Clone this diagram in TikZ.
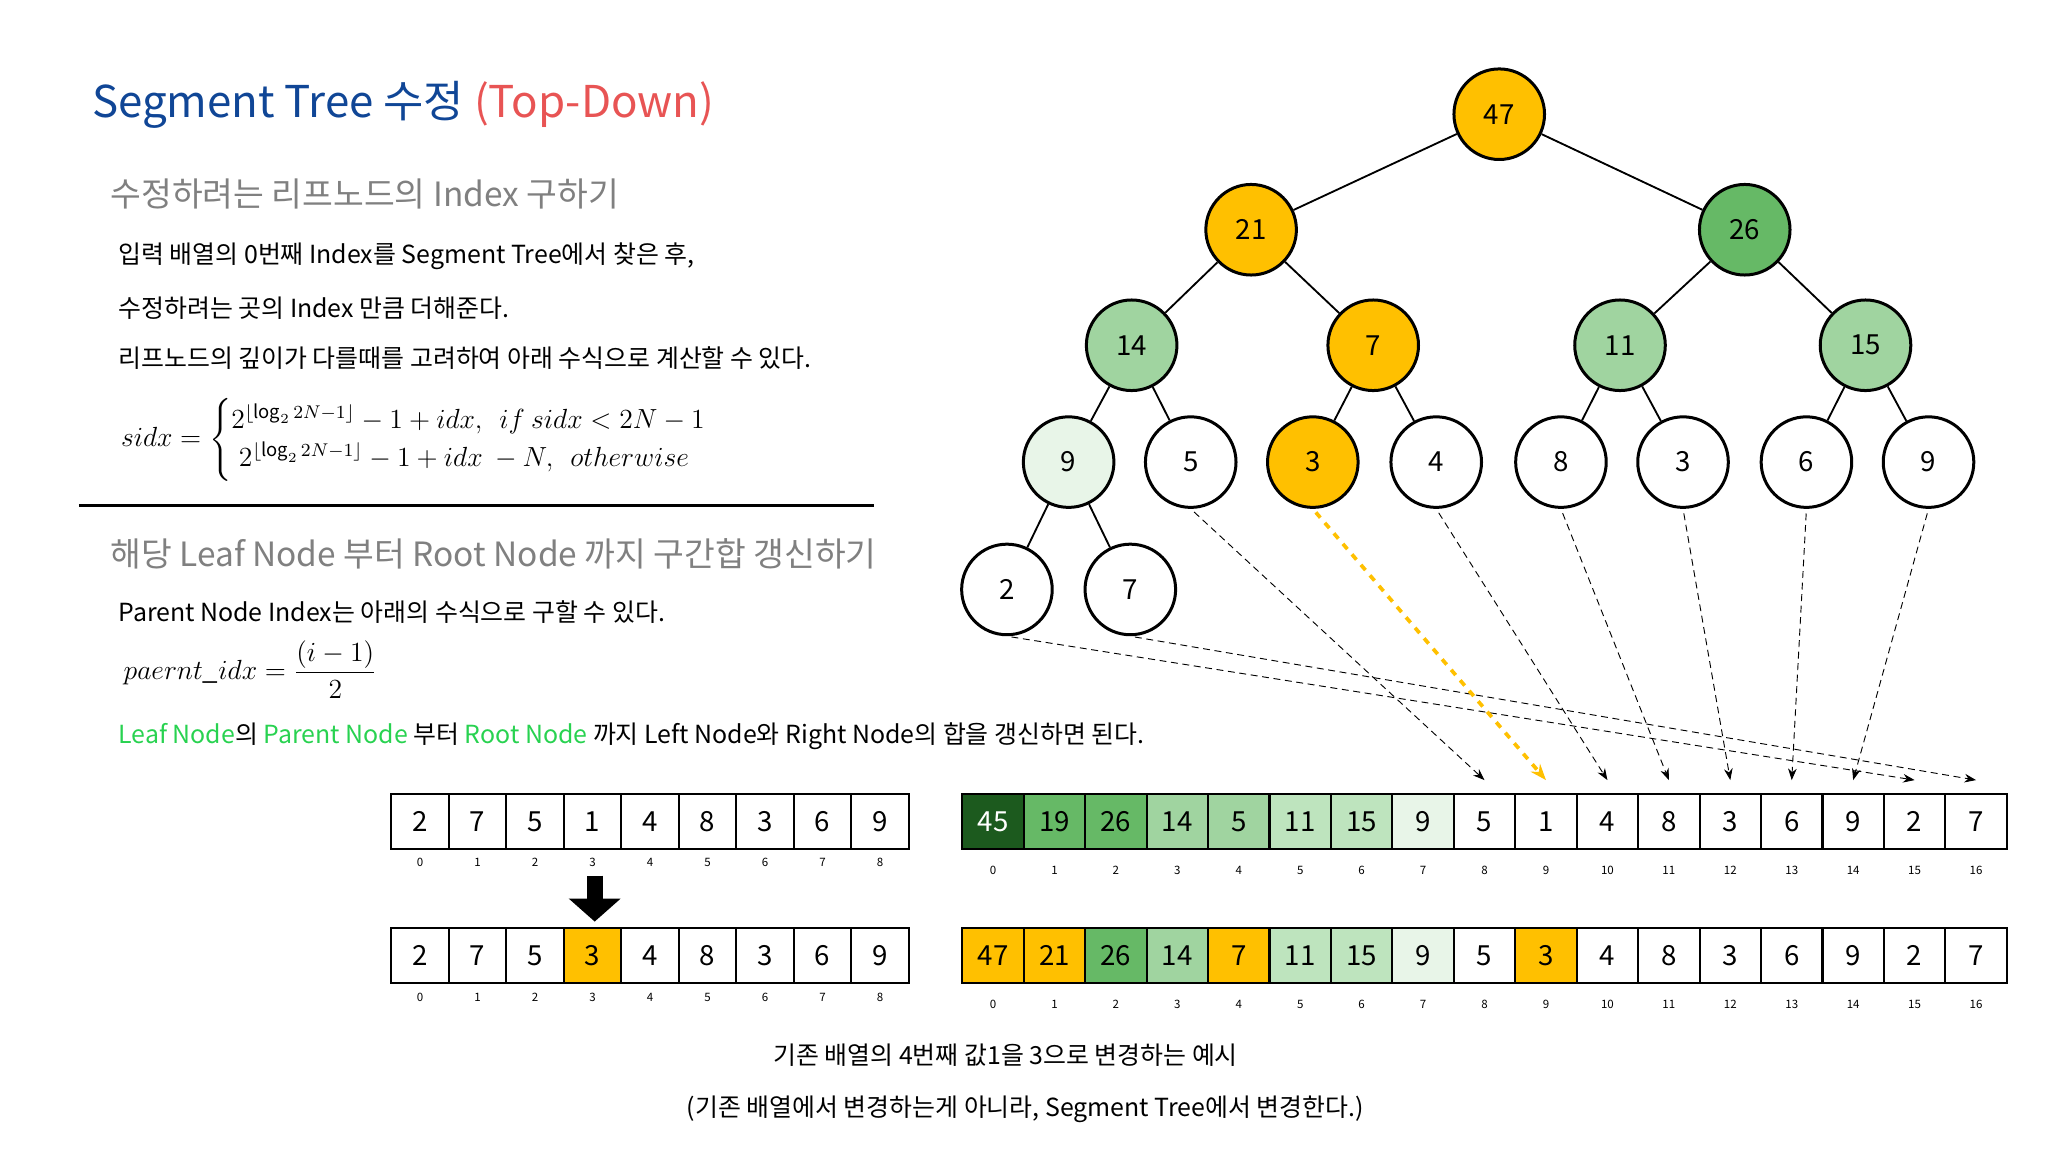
\documentclass[tikz,border=0pt]{standalone}
\usepackage{fontspec}
\usepackage{amsmath}
\setmainfont{Noto Sans CJK KR}
\usetikzlibrary{arrows.meta,positioning}
\definecolor{titleblue}{RGB}{16,70,150}
\definecolor{titlered}{RGB}{232,84,84}
\definecolor{subgray}{RGB}{128,128,128}
\definecolor{hlyellow}{RGB}{255,192,0}
\definecolor{gdark}{RGB}{28,90,30}
\definecolor{gmid}{RGB}{102,185,102}
\definecolor{glight}{RGB}{160,212,160}
\definecolor{gpale}{RGB}{190,228,190}
\definecolor{gwhite}{RGB}{232,245,232}
\definecolor{leafgreen}{RGB}{40,210,80}
\tikzset{
  tnode/.style={circle,draw=black,line width=1.3pt,minimum size=1.38cm,inner sep=0pt,font=\large},
  cell/.style={draw=black,line width=0.9pt,minimum width=0.876cm,minimum height=0.84cm,inner sep=0pt,font=\large},
  wcell/.style={cell,minimum width=0.936cm},
  idx/.style={font=\tiny},
  body/.style={anchor=west,font=\fontsize{10.8}{13}\selectfont},
  subhead/.style={anchor=west,text=subgray,font=\fontsize{14.5}{17}\selectfont},
  map/.style={->,>={Stealth[length=5pt]},densely dashed,line width=0.4pt,shorten <=2pt},
}
\begin{document}
\begin{tikzpicture}[x=0.02cm,y=-0.02cm]
\useasboundingbox (0,0) rectangle (1560,878);
% texts on the left
\node[anchor=west,font=\fontsize{19}{22}\selectfont] (title) at (64,80)
  {\textcolor{titleblue}{Segment Tree 수정} \textcolor{titlered}{(Top-Down)}};
\node[subhead] (h1) at (78,148) {수정하려는 리프노드의 Index 구하기};
\node[body] (l1) at (84,195) {입력 배열의 0번째 Index를 Segment Tree에서 찾은 후,};
\node[body] (l2) at (84,235) {수정하려는 곳의 Index 만큼 더해준다.};
\node[body] (l3) at (84,273) {리프노드의 깊이가 다를때를 고려하여 아래 수식으로 계산할 수 있다.};
\node[anchor=west,font=\large] (f1) at (86,335) {$sidx=\begin{cases}2^{\lfloor\log_2 2N-1\rfloor}-1+idx,\ \ if\ sidx<2N-1\\ \;2^{\lfloor\log_2 2N-1\rfloor}-1+idx\ -N,\ \ otherwise\end{cases}$};
\coordinate (ruleL) at (60,385);
\coordinate (ruleR) at (666,385);
\draw[line width=1pt] (ruleL) -- (ruleR);
\node[subhead] (h2) at (78,422) {해당 Leaf Node 부터 Root Node 까지 구간합 갱신하기};
\node[body] (l4) at (84,466) {Parent Node Index는 아래의 수식으로 구할 수 있다.};
\node[anchor=west,font=\large] (f2) at (88,510) {$paernt\_idx=\dfrac{(i-1)}{2}$};
\node[body] (l5) at (84,561) {\textcolor{leafgreen}{Leaf Node}의 \textcolor{leafgreen}{Parent Node} 부터 \textcolor{leafgreen}{Root Node} 까지 Left Node와 Right Node의 합을 갱신하면 된다.};
% tree
\node[tnode,fill=hlyellow] (t0) at (1142,87)  {47};
\node[tnode,fill=hlyellow] (t1) at (953,175)  {21};
\node[tnode,fill=gmid]     (t2) at (1329,175) {26};
\node[tnode,fill=glight]   (t3) at (862,263)  {14};
\node[tnode,fill=hlyellow] (t4) at (1046,263) {7};
\node[tnode,fill=glight]   (t5) at (1234,263) {11};
\node[tnode,fill=glight]   (t6) at (1421,263) {15};
\node[tnode,fill=gwhite]   (t7) at (814,352)  {9};
\node[tnode]               (t8) at (907,352)  {5};
\node[tnode,fill=hlyellow] (t9) at (1000,352) {3};
\node[tnode]               (t10) at (1094,352) {4};
\node[tnode]               (t11) at (1189,352) {8};
\node[tnode]               (t12) at (1282,352) {3};
\node[tnode]               (t13) at (1376,352) {6};
\node[tnode]               (t14) at (1469,352) {9};
\node[tnode]               (t15) at (767,449) {2};
\node[tnode]               (t16) at (861,449) {7};
\foreach \p/\c in {0/1,0/2,1/3,1/4,2/5,2/6,3/7,3/8,4/9,4/10,5/11,5/12,6/13,6/14,7/15,7/16}
  \draw[line width=0.8pt] (t\p) -- (t\c);
% input arrays
\foreach \v [count=\i from 0] in {2,7,5,1,4,8,3,6,9} {
  \node[cell] (a\i) at (320+\i*43.8,626) {\v};
  \node[idx] (ai\i) at (320+\i*43.8,657) {\i};
}
\foreach \v [count=\i from 0] in {2,7,5,3,4,8,3,6,9} {
  \node[cell] (b\i) at (320+\i*43.8,728) {\v};
  \node[idx] (bi\i) at (320+\i*43.8,760) {\i};
}
\node[cell,fill=hlyellow] at (b3) {3};
\coordinate (dnTop) at (453,667);
\coordinate (dnBot) at (453,702);
\draw[-{Triangle[length=10pt,width=22pt]},line width=7pt] (dnTop) -- (dnBot);
% segment tree arrays
\foreach \v/\f [count=\i from 0] in {45/gdark,19/gmid,26/gmid,14/glight,5/glight,11/gpale,15/gpale,9/gwhite,5/white,1/white,4/white,8/white,3/white,6/white,9/white,2/white,7/white} {
  \node[wcell,fill=\f] (s\i) at (756.4+\i*46.8,626) {\v};
  \node[idx] (si\i) at (756.4+\i*46.8,663) {\i};
}
\node[wcell,fill=gdark,text=white] at (s0) {45};
\foreach \v/\f [count=\i from 0] in {47/hlyellow,21/hlyellow,26/gmid,14/glight,7/hlyellow,11/gpale,15/gpale,9/gwhite,5/white,3/hlyellow,4/white,8/white,3/white,6/white,9/white,2/white,7/white} {
  \node[wcell,fill=\f] (u\i) at (756.4+\i*46.8,728) {\v};
  \node[idx] (ui\i) at (756.4+\i*46.8,765) {\i};
}
% leaves to array
\foreach \t/\s in {8/8,10/10,11/11,12/12,13/13,14/14,15/15,16/16}
  \draw[map] (t\t.south) -- ([yshift=0.2cm]s\s.north);
\draw[->,>={Stealth[length=7pt]},dashed,hlyellow,line width=1.6pt,shorten <=2pt] (t9.south) -- ([yshift=0.2cm]s9.north);
% caption
\node[font=\fontsize{10.8}{13}\selectfont] (cap1) at (766,804) {기존 배열의 4번째 값1을 3으로 변경하는 예시};
\node[font=\fontsize{10.8}{13}\selectfont] (cap2) at (781,845) {(기존 배열에서 변경하는게 아니라, Segment Tree에서 변경한다.)};
\end{tikzpicture}
\end{document}
